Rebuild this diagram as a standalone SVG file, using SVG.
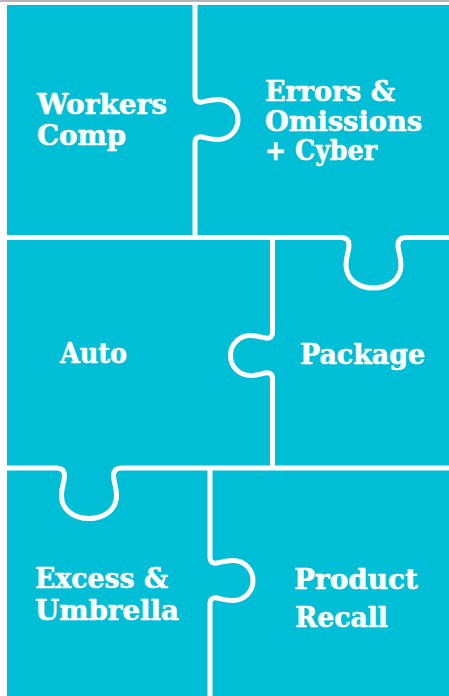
<svg xmlns="http://www.w3.org/2000/svg" width="449" height="696" viewBox="0 0 449 696">
<style>
.bg{fill:#00BED5}
.cut{fill:none;stroke:#FFFFFF;stroke-width:5;stroke-linejoin:round;stroke-linecap:butt}
.lbl{font-family:"DejaVu Serif","Liberation Serif",serif;font-weight:bold;font-size:28.5px;fill:#FFFFFF;stroke:#FFFFFF;stroke-width:0.6px;stroke-linejoin:round}
</style>
<rect x="0" y="0" width="449" height="696" fill="#FFFFFF"/>
<rect class="bg" x="7" y="5" width="442" height="691"/>
<rect x="0" y="0" width="449" height="2" fill="#B5B5B5"/>
<g id="connectors">
<path class="cut" d="M195,5 V96 Q195,103 202,102 C207,101 211,99.5 218,99.5 C229,99.5 238,108 238,119.5 C238,131 229,139.5 218,139.5 C211,139.5 207,138 202,137 Q195,136 195,143 V237.5"/>
<path class="cut" d="M5,237.5 H341 Q349,237.5 349,245 C349,252 346,256 346,265 C346,279 358,288 373.5,288 C389,288 401,279 401,265 C401,256 398,252 398,245 Q398,237.5 406,237.5 H449"/>
<path class="cut" d="M272.5,237.5 V332 Q272.5,339 265.5,338 C260.5,337 256.5,335.5 250.5,335.5 C239.5,335.5 230.5,344 230.5,355.5 C230.5,367 239.5,375.5 250.5,375.5 C256.5,375.5 260.5,374 265.5,373 Q272.5,372 272.5,379 V468"/>
<path class="cut" d="M5,468 H56.5 Q64.5,468 64.5,475.5 C64.5,482.5 61.5,486.5 61.5,495.5 C61.5,509.5 73.5,518.5 89,518.5 C104.5,518.5 116.5,509.5 116.5,495.5 C116.5,486.5 113.5,482.5 113.5,475.5 Q113.5,468 121.5,468 H449"/>
<path class="cut" d="M210,468 V557 Q210,564 217,563 C222,562 226,560.5 233,560.5 C244,560.5 253,569 253,580.5 C253,592 244,600.5 233,600.5 C226,600.5 222,599 217,598 Q210,597 210,604 V696"/>
</g>
<g id="workers-comp">
<text class="lbl" x="37" y="114" textLength="130" lengthAdjust="spacingAndGlyphs">Workers</text>
<text class="lbl" x="37" y="144.5" textLength="89" lengthAdjust="spacingAndGlyphs">Comp</text>
</g>
<g id="errors-omissions-cyber">
<text class="lbl" x="265" y="100.5" textLength="130" lengthAdjust="spacingAndGlyphs">Errors &amp;</text>
<text class="lbl" x="265" y="131" textLength="157" lengthAdjust="spacingAndGlyphs">Omissions</text>
<text class="lbl" x="265" y="160" textLength="112" lengthAdjust="spacingAndGlyphs">+ Cyber</text>
</g>
<g id="auto">
<text class="lbl" x="60" y="363" textLength="67" lengthAdjust="spacingAndGlyphs">Auto</text>
</g>
<g id="package">
<text class="lbl" x="300" y="364" textLength="125" lengthAdjust="spacingAndGlyphs">Package</text>
</g>
<g id="excess-umbrella">
<text class="lbl" x="35" y="588" textLength="133" lengthAdjust="spacingAndGlyphs">Excess &amp;</text>
<text class="lbl" x="35" y="620" textLength="144" lengthAdjust="spacingAndGlyphs">Umbrella</text>
</g>
<g id="product-recall">
<text class="lbl" x="294" y="589" textLength="124" lengthAdjust="spacingAndGlyphs">Product</text>
<text class="lbl" x="295" y="627" textLength="93" lengthAdjust="spacingAndGlyphs">Recall</text>
</g>
</svg>
